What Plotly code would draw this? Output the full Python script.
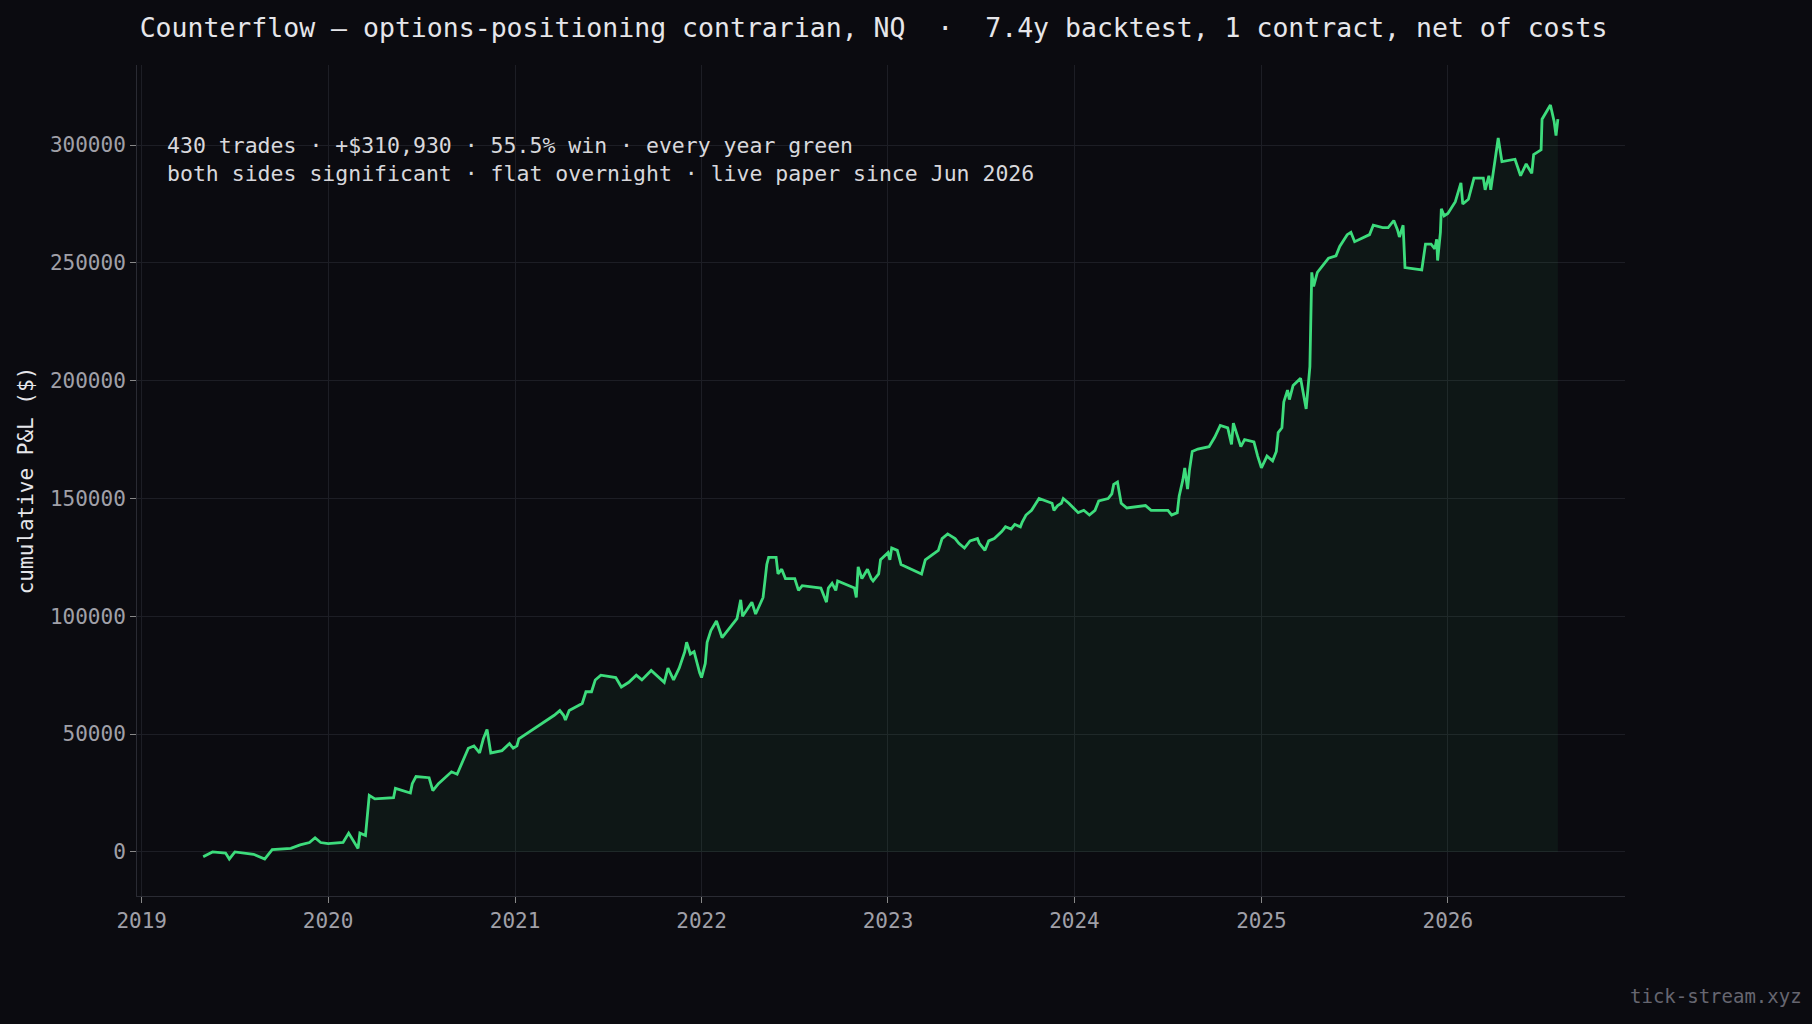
import plotly.graph_objects as go
import pandas as pd

years = [2019.33,2019.38,2019.45,2019.47,2019.5,2019.6,2019.66,2019.7,2019.8,2019.85,2019.9,2019.93,2019.96,2020.0,2020.08,
2020.11,2020.16,2020.17,2020.20,2020.22,2020.25,2020.35,2020.36,2020.44,2020.45,2020.47,2020.54,2020.56,2020.59,2020.63,2020.66,2020.69,2020.75,2020.78,2020.81,2020.83,2020.85,2020.87,2020.93,2020.97,2020.99,2021.01,2021.02,
2021.21,2021.24,2021.26,2021.27,2021.29,2021.34,2021.36,2021.38,2021.41,2021.43,2021.46,2021.54,2021.57,2021.61,2021.65,2021.68,2021.73,2021.80,2021.82,2021.85,2021.88,2021.91,2021.92,2021.94,2021.96,2021.99,
2022.00,2022.02,2022.03,2022.05,2022.08,2022.11,2022.13,2022.16,2022.19,2022.21,2022.22,2022.27,2022.29,2022.33,2022.35,2022.36,2022.40,2022.41,2022.43,2022.45,2022.50,2022.52,2022.54,2022.64,2022.67,2022.68,2022.70,2022.72,2022.73,2022.82,2022.83,2022.84,2022.86,2022.89,2022.91,2022.92,2022.95,2022.96,
2023.00,2023.01,2023.02,2023.05,2023.07,2023.18,2023.20,2023.27,2023.29,2023.32,2023.36,2023.38,2023.41,2023.44,2023.48,2023.49,2023.52,2023.54,2023.57,2023.61,2023.63,2023.66,2023.68,2023.71,2023.72,2023.74,2023.77,2023.81,2023.85,2023.88,2023.89,2023.91,2023.93,2023.94,2023.97,
2024.02,2024.05,2024.08,2024.11,2024.13,2024.18,2024.20,2024.21,2024.23,2024.25,2024.28,2024.38,2024.41,2024.50,2024.52,2024.55,2024.56,2024.58,2024.59,2024.605,2024.615,2024.63,2024.66,2024.72,2024.75,2024.78,2024.82,2024.84,2024.85,2024.87,2024.89,2024.91,2024.96,2024.98,
2025.00,2025.03,2025.06,2025.08,2025.09,2025.11,2025.12,2025.14,2025.15,2025.17,2025.21,2025.24,2025.26,2025.27,2025.28,2025.30,2025.34,2025.36,2025.40,2025.42,2025.46,2025.48,2025.50,2025.55,2025.58,2025.60,2025.65,2025.68,2025.71,2025.73,2025.74,2025.76,2025.77,2025.86,2025.88,2025.91,2025.93,2025.94,2025.945,2025.96,2025.965,2025.98,
2026.00,2026.04,2026.07,2026.08,2026.11,2026.14,2026.19,2026.20,2026.22,2026.23,2026.25,2026.27,2026.29,2026.36,2026.39,2026.42,2026.45,2026.46,2026.50,2026.505,2026.55,2026.57,2026.58,2026.59]

pnl = [-2000,0,-500,-3000,0,-1000,-3000,1000,1500,3000,4000,6000,4000,3500,4000,
8000,1500,8000,7000,24000,22500,23000,27000,25000,29000,32000,31500,26000,29000,32000,34000,33000,44000,45000,42000,48000,52000,42000,43000,46000,44000,45000,48000,
58000,60000,58000,56000,60000,62000,63000,68000,68000,73000,75000,74000,70000,72000,75000,73000,77000,72000,78000,73000,78000,85000,89000,84000,85000,76000,
74000,80000,89000,94000,98000,91000,93000,96000,99000,107000,100000,106000,101000,108000,122000,125000,125000,118000,120000,116000,116000,111000,113000,112000,106000,112000,114000,111000,115000,112000,108000,121000,116000,120000,116000,115000,118000,124000,
127000,124000,129000,128000,122000,118000,124000,128000,133000,135000,133000,131000,129000,132000,133000,131000,128000,132000,133000,136000,138000,137000,139000,138000,140000,143000,145000,150000,149000,148000,145000,147000,148000,150000,148000,
144000,145000,143000,145000,149000,150000,152000,156000,157000,148000,146000,147000,145000,145000,143000,144000,151000,158000,163000,154000,162000,170000,171000,172000,176000,181000,180000,173000,182000,177000,172000,175000,174000,168000,
163000,168000,166000,170000,178000,180000,191000,196000,192000,198000,201000,188000,206000,246000,240000,246000,250000,252000,253000,257000,262000,263000,259000,261000,262000,266000,265000,265000,268000,264000,261000,266000,248000,247000,258000,258000,256000,260000,251000,263000,273000,270000,
271000,276000,284000,275000,277000,286000,286000,281000,287000,281000,291000,303000,293000,294000,287000,292000,288000,296000,298000,311000,317000,310000,304000,311000]

def to_date(y):
    yr = int(y)
    start = pd.Timestamp(year=yr, month=1, day=1)
    end = pd.Timestamp(year=yr + 1, month=1, day=1)
    return start + (end - start) * (y - yr)

dates = [to_date(y) for y in years]

title = "Counterflow — options-positioning contrarian, NQ  ·  7.4y backtest, 1 contract, net of costs"
note = "430 trades · +$310,930 · 55.5% win · every year green<br>both sides significant · flat overnight · live paper since Jun 2026"
font = "DejaVu Sans Mono"
bg = "#0b0b10"
grid = "#1d1e25"

fig = go.Figure(go.Scatter(x=dates, y=pnl, mode="lines", fill="tozeroy",
                           line=dict(color="#3ddc7c", width=2.8),
                           fillcolor="rgba(61,220,124,0.06)"))
fig.update_layout(
    width=1812, height=1024, paper_bgcolor=bg, plot_bgcolor=bg,
    margin=dict(l=137, r=187, t=65, b=128), showlegend=False,
    font=dict(family=font, color="#a0a0a8", size=21),
    title=dict(text=title, xref="paper", x=0.495, xanchor="center", y=0.982, yanchor="top",
               font=dict(family=font, size=26.5, color="#e6e6ea")),
    xaxis=dict(range=[to_date(2018.975), to_date(2026.95)], showgrid=True, gridcolor=grid,
               tickvals=[to_date(float(y)) for y in range(2019, 2027)],
               ticktext=[str(y) for y in range(2019, 2027)],
               showline=True, linecolor="#2a2b33", ticks="outside", tickcolor="#888",
               ticklen=6, zeroline=False, tickfont=dict(size=21)),
    yaxis=dict(range=[-18700, 334000], showgrid=True, gridcolor=grid,
               tickvals=[0, 50000, 100000, 150000, 200000, 250000, 300000],
               ticktext=["0", "50000", "100000", "150000", "200000", "250000", "300000"],
               showline=True, linecolor="#2a2b33", ticks="outside", tickcolor="#888",
               ticklen=6, zeroline=False, tickfont=dict(size=21),
               title=dict(text="cumulative P&L ($)", standoff=10, font=dict(size=21, color="#e6e6ea"))),
    annotations=[
        dict(text=note, xref="paper", yref="paper", x=0.019, y=0.92, xanchor="left", yanchor="top",
             showarrow=False, align="left", font=dict(family=font, size=21.5, color="#d8d8dc")),
        dict(text="tick-stream.xyz", xref="paper", yref="paper", x=1.12, y=-0.105, xanchor="right",
             yanchor="top", showarrow=False, font=dict(family=font, size=19, color="#666670")),
    ],
)
fig.write_html("out.html", config={"displayModeBar": False},
               post_script="document.body.style.margin='0';document.body.style.background='#0b0b10';")
